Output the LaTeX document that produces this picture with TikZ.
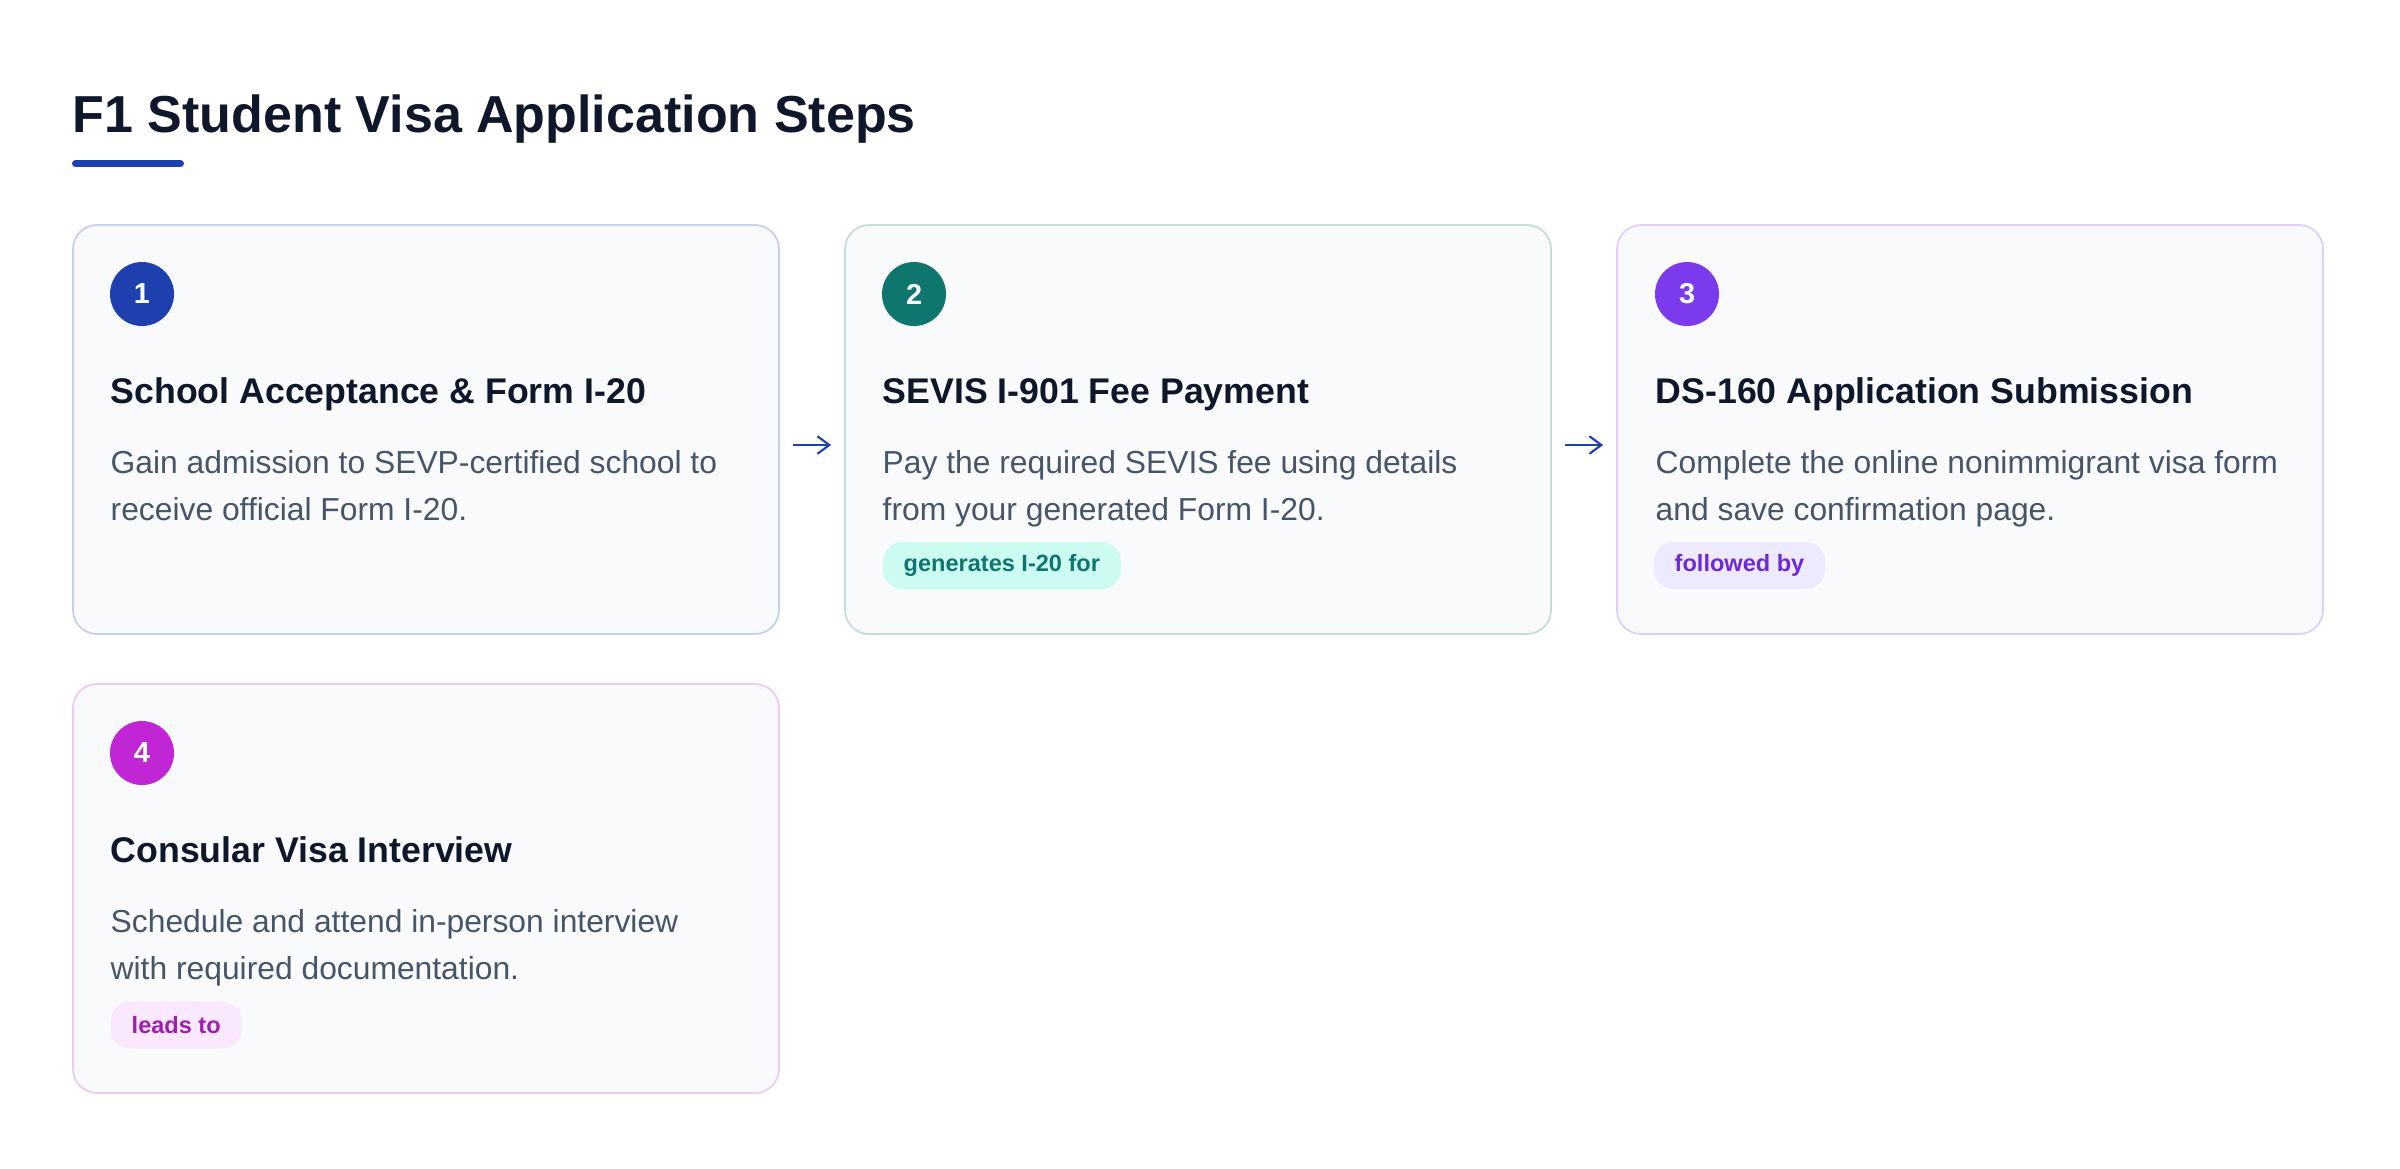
\documentclass[tikz,border=0pt]{standalone}
\usepackage{fontspec}
\setmainfont{Liberation Sans}
\usetikzlibrary{positioning,arrows.meta}

\definecolor{ink}{HTML}{0F172A}
\definecolor{slate}{HTML}{475569}
\definecolor{cardbg}{HTML}{F8FAFC}
\definecolor{blu}{HTML}{1E40AF}
\definecolor{tel}{HTML}{0F766E}
\definecolor{vio}{HTML}{7C3AED}
\definecolor{mag}{HTML}{C026D3}
\definecolor{telbg}{HTML}{CCFBF1}
\definecolor{teltx}{HTML}{0F766E}
\definecolor{viobg}{HTML}{EDE9FE}
\definecolor{viotx}{HTML}{6D28D9}
\definecolor{magbg}{HTML}{FAE8FF}
\definecolor{magtx}{HTML}{A21CAF}

\begin{document}
\begin{tikzpicture}[x=1cm,y=-1cm,
  card/.style={draw=#1!25, line width=0.5pt, fill=cardbg, rounded corners=0.24cm,
    minimum width=7.06cm, minimum height=4.09cm, inner sep=0pt},
  num/.style={circle, fill=#1, text=white, minimum size=0.64cm, inner sep=0pt,
    font=\fontsize{8.2}{9}\selectfont\bfseries},
  head/.style={anchor=base west, inner sep=0pt, text=ink,
    font=\fontsize{10.15}{12}\selectfont\bfseries},
  desc/.style={anchor=base west, inner sep=0pt, text=slate, align=left,
    font=\fontsize{9.05}{13.35}\selectfont},
  tag/.style={anchor=west, fill=#1bg, text=#1tx, rounded corners=0.2cm,
    minimum height=0.47cm, inner xsep=0.21cm, inner ysep=0pt,
    font=\fontsize{6.7}{7}\selectfont\bfseries},
  flow/.style={draw=blu, line width=0.6pt, -{Straight Barb[length=3.4pt,width=5pt]},
    shorten <=0.13cm, shorten >=0.13cm}]

  \fill[white] (0,0) rectangle (24,11.68);
  \useasboundingbox (0,0) rectangle (24,11.68);

  %title
  \node[anchor=base west, inner sep=0pt, text=ink, font=\fontsize{14.8}{18}\selectfont\bfseries]
    (title) at (0.72,1.32) {F1 Student Visa Application Steps};
  \draw[blu, line width=2pt, line cap=round] (0.755,1.635) -- (1.805,1.635);

  %cards
  \node[card=blu] (c1) at (4.26,4.295) {};
  \node[card=tel] (c2) at (11.98,4.295) {};
  \node[card=vio] (c3) at (19.70,4.295) {};
  \node[card=mag] (c4) at (4.26,8.885) {};

  %step 1
  \node[num=blu] (n1) at (1.42,2.94) {1};
  \node[head] (h1) at (1.10,4.03) {School Acceptance \& Form I-20};
  \node[desc] (d1) at (1.10,5.20) {Gain admission to SEVP-certified school to\\receive official Form I-20.};

  %step 2
  \node[num=tel] (n2) at (9.14,2.94) {2};
  \node[head] (h2) at (8.82,4.03) {SEVIS I-901 Fee Payment};
  \node[desc] (d2) at (8.82,5.20) {Pay the required SEVIS fee using details\\from your generated Form I-20.};
  \node[tag=tel] (t2) at (8.82,5.655) {generates I-20 for};

  %step 3
  \node[num=vio] (n3) at (16.87,2.94) {3};
  \node[head] (h3) at (16.55,4.03) {DS-160 Application Submission};
  \node[desc] (d3) at (16.55,5.20) {Complete the online nonimmigrant visa form\\and save confirmation page.};
  \node[tag=vio] (t3) at (16.53,5.655) {followed by};

  %step 4
  \node[num=mag] (n4) at (1.42,7.53) {4};
  \node[head] (h4) at (1.10,8.62) {Consular Visa Interview};
  \node[desc] (d4) at (1.10,9.79) {Schedule and attend in-person interview\\with required documentation.};
  \node[tag=mag] (t4) at (1.10,10.25) {leads to};

  %arrows
  \draw[flow] ([yshift=-0.155cm]c1.east) -- ([yshift=-0.155cm]c2.west);
  \draw[flow] ([yshift=-0.155cm]c2.east) -- ([yshift=-0.155cm]c3.west);
\end{tikzpicture}
\end{document}
